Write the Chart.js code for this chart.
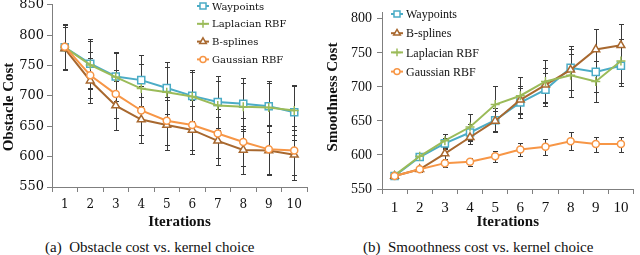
<!DOCTYPE html>
<html>
<head>
<meta charset="utf-8">
<script src="https://cdn.jsdelivr.net/npm/chart.js@4.4.1/dist/chart.umd.min.js"></script>
<style>
  body { margin: 0; width: 640px; height: 255px; background: #fff; position: relative; overflow: hidden; }
  .box { position: absolute; top: -6px; width: 320px; height: 240px; }
  #boxA { left: 0; }
  #boxB { left: 320px; }
  .cap { position: absolute; top: 239px; font: 15px/17px "Liberation Serif", serif; color: #111; white-space: pre; }
</style>
</head>
<body>
<div class="box" id="boxA"><canvas id="chart-obstacle" width="320" height="240"></canvas></div>
<div class="box" id="boxB"><canvas id="chart-smooth" width="320" height="240"></canvas></div>
<div class="cap" style="left:45px">(a)  Obstacle cost vs. kernel choice</div>
<div class="cap" style="left:363px">(b)  Smoothness cost vs. kernel choice</div>

<script>
// ── data ──
const iterations = ['1', '2', '3', '4', '5', '6', '7', '8', '9', '10'];

// obstacle cost (left)
const waypointsObs = [780, 753, 732, 726, 713, 700, 690, 687, 683, 673];
const laplacianObs = [780, 751, 731, 712, 706, 699, 684, 682, 681, 676];
const bsplinesObs  = [778, 725, 684, 661, 652, 644, 626, 611, 610, 603];
const gaussianObs  = [781, 734, 703, 676, 659, 652, 638, 624, 612, 610];
const waypointsObsErr = [38, 40, 41, 42, 43, 42, 43, 42, 42, 45];
const laplacianObsErr = [37, 40, 40, 40, 42, 41, 40, 40, 40, 41];
const bsplinesObsErr  = [36, 37, 40, 38, 41, 40, 39, 40, 40, 41];
const gaussianObsErr  = [37, 38, 40, 40, 40, 41, 40, 40, 40, 40];

// smoothness cost (right)
const waypointsSm = [569, 597, 617, 633, 651, 677, 696, 728, 722, 731];
const bsplinesSm  = [569, 579, 602, 626, 650, 681, 703, 725, 755, 761];
const laplacianSm = [570, 598, 621, 641, 674, 687, 708, 717, 708, 738];
const gaussianSm  = [569, 579, 588, 590, 598, 608, 612, 620, 616, 616];
const waypointsSmErr = [2, 5, 8, 12, 18, 22, 24, 32, 30, 30];
const bsplinesSmErr  = [2, 4, 8, 10, 15, 20, 25, 30, 30, 31];
const laplacianSmErr = [2, 5, 10, 19, 27, 27, 32, 32, 30, 32];
const gaussianSmErr  = [2, 4, 6, 6, 8, 10, 12, 13, 11, 11];

const cyan = '#4bacc6';
const green = '#9bbb59';
const brown = '#a8682f';
const orange = '#f79646';
const axisColor = '#7f7f7f';
const textColor = '#111';

function series(label, data, errors, color, style, radius) {
  return {
    label, data, errors,
    borderColor: color,
    backgroundColor: '#fff',
    borderWidth: 2,
    pointStyle: style,
    pointRadius: radius,
    pointHoverRadius: radius,
    pointBorderWidth: 1.5,
    pointBackgroundColor: '#fff',
    pointBorderColor: color,
    tension: 0
  };
}

// vertical error bars with caps, drawn under the lines
const errorBars = {
  id: 'errorBars',
  beforeDatasetsDraw(chart) {
    const ctx = chart.ctx;
    const y = chart.scales.y;
    ctx.save();
    ctx.strokeStyle = '#3a3a3a';
    ctx.lineWidth = 1;
    chart.data.datasets.forEach((ds, i) => {
      chart.getDatasetMeta(i).data.forEach((pt, j) => {
        const v = ds.data[j], e = ds.errors[j];
        const top = Math.round(y.getPixelForValue(v + e)) + 0.5;
        const bot = Math.round(y.getPixelForValue(v - e)) + 0.5;
        const x = Math.round(pt.x) + 0.5;
        ctx.beginPath();
        ctx.moveTo(x, top); ctx.lineTo(x, bot);
        ctx.moveTo(x - 2.5, top); ctx.lineTo(x + 2.5, top);
        ctx.moveTo(x - 2.5, bot); ctx.lineTo(x + 2.5, bot);
        ctx.stroke();
      });
    });
    ctx.restore();
  }
};

// legend inside the plot, like the Excel one
const boxLegend = {
  id: 'boxLegend',
  afterDraw(chart, args, opts) {
    const ctx = chart.ctx;
    ctx.save();
    ctx.font = opts.font;
    ctx.textBaseline = 'middle';
    opts.order.forEach((idx, k) => {
      const ds = chart.data.datasets[idx];
      const yy = opts.y + k * opts.step;
      ctx.strokeStyle = ds.borderColor;
      ctx.lineWidth = 2;
      ctx.beginPath();
      ctx.moveTo(opts.x - 6, yy);
      ctx.lineTo(opts.x + 6, yy);
      ctx.stroke();
      ctx.fillStyle = '#fff';
      ctx.lineWidth = 1.5;
      Chart.helpers.drawPoint(ctx, { pointStyle: ds.pointStyle, radius: ds.pointRadius * 0.85, borderWidth: 1.5, rotation: 0 }, opts.x, yy);
      ctx.fillStyle = textColor;
      ctx.fillText(ds.label, opts.x + 9, yy + 1);
    });
    ctx.restore();
  }
};

// rotated y title, placed by hand
const sideTitle = {
  id: 'sideTitle',
  afterDraw(chart, args, opts) {
    const ctx = chart.ctx;
    ctx.save();
    ctx.translate(opts.x, opts.y);
    ctx.rotate(-Math.PI / 2);
    ctx.font = 'bold 15px "Liberation Serif", serif';
    ctx.textAlign = 'center';
    ctx.textBaseline = 'middle';
    ctx.fillStyle = textColor;
    ctx.fillText(opts.text, 0, 0);
    ctx.restore();
  }
};

function makeChart(id, datasets, cfg) {
  return new Chart(document.getElementById(id), {
    type: 'line',
    data: { labels: iterations, datasets },
    plugins: [errorBars, boxLegend, sideTitle],
    options: {
      responsive: false,
      animation: false,
      devicePixelRatio: 1,
      layout: { padding: { top: cfg.padTop, right: cfg.padRight, left: 0, bottom: 0 } },
      plugins: {
        legend: { display: false },
        tooltip: { enabled: false },
        boxLegend: cfg.legend,
        sideTitle: cfg.yTitle
      },
      scales: {
        x: {
          offset: true,
          grid: { offset: true, drawOnChartArea: false, tickLength: 5, tickColor: axisColor },
          border: { color: axisColor, width: 1 },
          ticks: { color: textColor, font: { family: cfg.family, size: cfg.xSize }, padding: cfg.xPad, maxRotation: 0, autoSkip: false },
          title: {
            display: true, text: 'Iterations', color: textColor,
            font: { family: '"Liberation Serif", serif', size: 15, weight: 'bold' },
            padding: { top: 0, bottom: cfg.titlePad }
          },
          afterFit: s => { s.height = cfg.xHeight; }
        },
        y: {
          min: 550, max: cfg.max,
          grid: { drawOnChartArea: false, tickLength: 5, tickColor: axisColor },
          border: { color: axisColor, width: 1 },
          ticks: { stepSize: 50, includeBounds: false, color: textColor, font: { family: cfg.family, size: cfg.ySize }, padding: cfg.yPad },
          afterFit: s => { s.width = cfg.yWidth; }
        }
      }
    }
  });
}

makeChart('chart-obstacle', [
  series('Gaussian RBF', gaussianObs, gaussianObsErr, orange, 'circle', 3.5),
  series('B-splines', bsplinesObs, bsplinesObsErr, brown, 'triangle', 4.5),
  series('Laplacian RBF', laplacianObs, laplacianObsErr, green, 'cross', 4.5),
  series('Waypoints', waypointsObs, waypointsObsErr, cyan, 'rect', 5)
], {
  family: '"DejaVu Serif", serif', xSize: 12, ySize: 13,
  max: 850, padTop: 10, padRight: 13,
  yWidth: 52, xHeight: 47, xPad: 6, yPad: 3, titlePad: 3,
  legend: { x: 203, y: 12, step: 17.8, order: [3, 2, 1, 0], font: '10px "DejaVu Serif", serif' },
  yTitle: { x: 9, y: 113, text: 'Obstacle Cost' }
});

makeChart('chart-smooth', [
  series('Gaussian RBF', gaussianSm, gaussianSmErr, orange, 'circle', 3.5),
  series('Laplacian RBF', laplacianSm, laplacianSmErr, green, 'cross', 4.5),
  series('B-splines', bsplinesSm, bsplinesSmErr, brown, 'triangle', 4.5),
  series('Waypoints', waypointsSm, waypointsSmErr, cyan, 'rect', 5)
], {
  family: '"Liberation Serif", serif', xSize: 15, ySize: 14,
  max: 810, padTop: 18, padRight: 2,
  yWidth: 62, xHeight: 45, xPad: 5, yPad: 5, titlePad: 3,
  legend: { x: 77, y: 20, step: 19.2, order: [3, 2, 1, 0], font: '12px "Liberation Serif", serif' },
  yTitle: { x: 13, y: 103, text: 'Smoothness Cost' }
});
</script>
</body>
</html>
